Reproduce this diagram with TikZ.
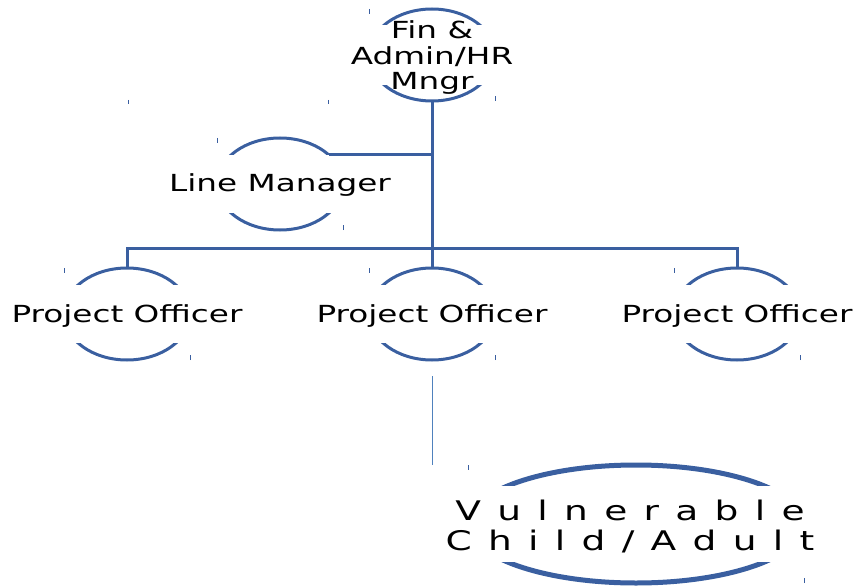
\documentclass[tikz,border=0pt]{standalone}
\usepackage{fontspec}
\setmainfont{DejaVu Sans}[FakeStretch=1.39]
\usetikzlibrary{shapes.geometric}

\definecolor{c3a5fa0}{RGB}{58,95,160}
\definecolor{c4f81bd}{RGB}{79,129,189}

\newdimen\spreadgap \spreadgap=16.3pt
\def\spreadout#1{\spreadstep#1\relax}
\def\spreadstep#1{\ifx#1\relax\unkern\else#1\kern\spreadgap\expandafter\spreadstep\fi}

\begin{document}
\begin{tikzpicture}[x=1pt, y=-1pt, inner sep=0pt, outer sep=0pt,
  ring/.style={ellipse, draw=c3a5fa0, line width=3pt, minimum width=126pt, minimum height=92pt},
  mask/.style={fill=white},
  lbl/.style={font=\fontsize{23.5}{25.5}\selectfont, align=center},
  one line/.style={text height=16pt, text depth=0pt},
  link/.style={draw=c3a5fa0, line width=3pt, line cap=butt},
  feed/.style={draw=c4f81bd, line width=1pt},
  tick/.style={draw=c3a5fa0, line width=0.8pt}]

  \useasboundingbox (0,0) rectangle (856,588);

  % rings
  \node[ring] (fin) at (432,55) {};
  \node[ring] (lm) at (280,184) {};
  \node[ring] (po1) at (127,314) {};
  \node[ring] (po2) at (432,314) {};
  \node[ring] (po3) at (737,314) {};
  \node[ring, line width=5pt, minimum width=336pt, minimum height=118pt] (vul) at (636,524) {};

  % white bands behind the labels
  \foreach \n/\h in {fin/30, lm/29, po1/29, po2/29, po3/29, vul/38}
    \path[mask] ([shift={(-6,-\h)}]\n.west) rectangle ([shift={(6,\h)}]\n.east);

  % labels
  \node[lbl] (fintext) at ([yshift=-3pt]fin.center) {Fin \&\\Admin/HR\\Mngr};
  \node[lbl, one line] (lmtext) at (lm) {Line Manager};
  \node[lbl, one line] (po1text) at (po1) {Project Officer};
  \node[lbl, one line] (po2text) at (po2) {Project Officer};
  \node[lbl, one line] (po3text) at (po3) {Project Officer};
  \node[lbl, font=\fontsize{27}{30}\selectfont] (vultext) at ([shift={(-6pt,-2pt)}]vul.center)
    {\spreadout{Vulnerable}\\\spreadout{Child/Adult}};

  % connectors
  \coordinate (bus) at (432,248);
  \draw[link] (fin.south) -- (bus);
  \draw[link] (lm.31) -- (lm.31 -| fin.south);
  \draw[link] (po1.north) -- (po1.north |- bus) -- (po3.north |- bus) -- (po3.north);
  \draw[link] (bus) -- (po2.north);
  \draw[feed] ([yshift=-16pt]po2.south) -- (po2.south |- vul.north);

  % corner ticks
  \foreach \n in {fin, lm, po1, po2, po3, vul} {
    \draw[tick] (\n.west |- \n.north) -- ++(0,5);
    \draw[tick] (\n.east |- \n.south) -- ++(0,-5);
  }
  \draw[tick] (128,100) -- ++(0,4);
  \draw[tick] (328,100) -- ++(0,4);

\end{tikzpicture}
\end{document}
